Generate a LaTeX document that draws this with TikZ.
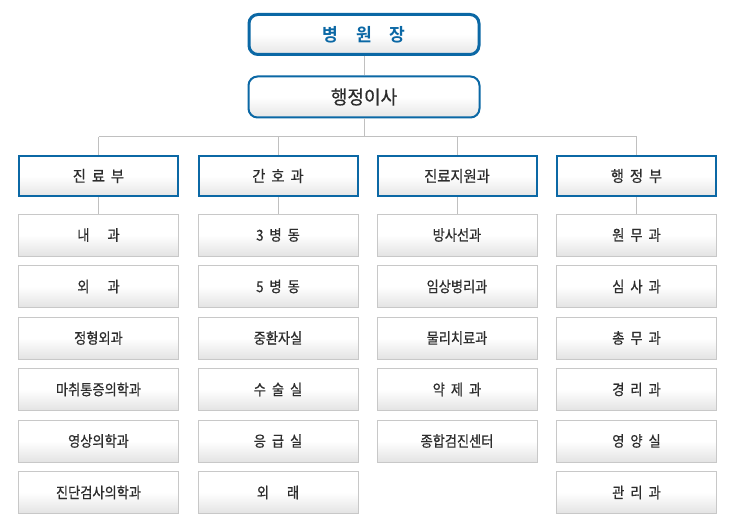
\documentclass[tikz,border=0pt]{standalone}
\usepackage{fontspec}
\setmainfont{Noto Sans CJK KR}
\newfontfamily\kchild[FakeStretch=0.88,FakeBold=0.6]{Noto Sans CJK KR}
\newfontfamily\kdept[FakeStretch=0.92,FakeBold=0.6]{Noto Sans CJK KR}
\newfontfamily\kexec[FakeStretch=0.95,FakeBold=0.6]{Noto Sans CJK KR}
\newfontfamily\ktop[FakeStretch=0.95]{Noto Sans CJK KR Bold}
\usetikzlibrary{shadows}
\definecolor{hblue}{RGB}{11,104,165}
\definecolor{htext}{RGB}{45,45,45}
\definecolor{hline}{RGB}{192,192,192}
\definecolor{hbord}{RGB}{200,200,200}
\newcommand\kg{\hspace{6pt}}
\newcommand\kw{\hspace{18pt}}
\tikzset{
  topbox/.style={draw=hblue, line width=3pt, rounded corners=9pt, minimum width=230pt, minimum height=40pt,
    top color=white, bottom color=black!10, middle color=white, text=hblue, font=\ktop\fontsize{18pt}{20pt}\selectfont},
  execbox/.style={draw=hblue, line width=2pt, rounded corners=9pt, minimum width=231pt, minimum height=41pt,
    top color=white, bottom color=black!10, middle color=white, text=htext, font=\kexec\fontsize{19pt}{22pt}\selectfont},
  deptbox/.style={draw=hblue, line width=2pt, minimum width=159pt, minimum height=40pt,
    top color=white, bottom color=black!10, middle color=white, text=htext, font=\kdept\fontsize{15.5pt}{18pt}\selectfont,
    general shadow={shadow xshift=0.8pt, shadow yshift=-0.8pt, fill=hblue!25}},
  childbox/.style={draw=hbord, line width=1pt, minimum width=160pt, minimum height=42pt,
    top color=white, bottom color=black!11, middle color=white, text=htext, font=\kchild\fontsize{15pt}{17pt}\selectfont,
    general shadow={shadow xshift=0.8pt, shadow yshift=-0.8pt, fill=black!8}},
  conn/.style={draw=hline, line width=1pt}
}
\begin{document}
\begin{tikzpicture}[x=1pt,y=-1pt]
\useasboundingbox (0,0) rectangle (740,527);
\fill[white] (0,0) rectangle (740,527);
\coordinate (bus) at (364,137);
\node[topbox] (top) at (364,34.5) {병\hspace{18pt}원\hspace{18pt}장};
\node[execbox] (exec) at (364,97) {행정이사};
\node[deptbox] (d1) at (98.5,176) {진\kg 료\kg 부};
\node[deptbox] (d2) at (278,176) {간\kg 호\kg 과};
\node[deptbox] (d3) at (457,176) {진료지원과};
\node[deptbox] (d4) at (636.5,176) {행\kg 정\kg 부};
% column 1
\node[childbox] (a1) at (98.5,235) {내\kw 과};
\node[childbox] (a2) at (98.5,286.5) {외\kw 과};
\node[childbox] (a3) at (98.5,338) {정형외과};
\node[childbox] (a4) at (98.5,389.5) {마취통증의학과};
\node[childbox] (a5) at (98.5,441) {영상의학과};
\node[childbox] (a6) at (98.5,492.5) {진단검사의학과};
% column 2
\node[childbox] (b1) at (278,235) {3\kg 병\kg 동};
\node[childbox] (b2) at (278,286.5) {5\kg 병\kg 동};
\node[childbox] (b3) at (278,338) {중환자실};
\node[childbox] (b4) at (278,389.5) {수\kg 술\kg 실};
\node[childbox] (b5) at (278,441) {응\kg 급\kg 실};
\node[childbox] (b6) at (278,492.5) {외\kw 래};
% column 3
\node[childbox] (c1) at (457,235) {방사선과};
\node[childbox] (c2) at (457,286.5) {임상병리과};
\node[childbox] (c3) at (457,338) {물리치료과};
\node[childbox] (c4) at (457,389.5) {약\kg 제\kg 과};
\node[childbox] (c5) at (457,441) {종합검진센터};
% column 4
\node[childbox] (e1) at (636.5,235) {원\kg 무\kg 과};
\node[childbox] (e2) at (636.5,286.5) {심\kg 사\kg 과};
\node[childbox] (e3) at (636.5,338) {총\kg 무\kg 과};
\node[childbox] (e4) at (636.5,389.5) {경\kg 리\kg 과};
\node[childbox] (e5) at (636.5,441) {영\kg 양\kg 실};
\node[childbox] (e6) at (636.5,492.5) {관\kg 리\kg 과};
% connectors
\draw[conn] (top.south) -- (exec.north);
\draw[conn] (exec.south) -- (bus);
\draw[conn] (d1 |- bus) -- (d4 |- bus);
\foreach \d in {d1,d2,d3,d4}{\draw[conn] (\d |- bus) -- (\d.north);}
\draw[conn] (d1.south) -- (a1.north);
\draw[conn] (d2.south) -- (b1.north);
\draw[conn] (d3.south) -- (c1.north);
\draw[conn] (d4.south) -- (e1.north);
\end{tikzpicture}
\end{document}
